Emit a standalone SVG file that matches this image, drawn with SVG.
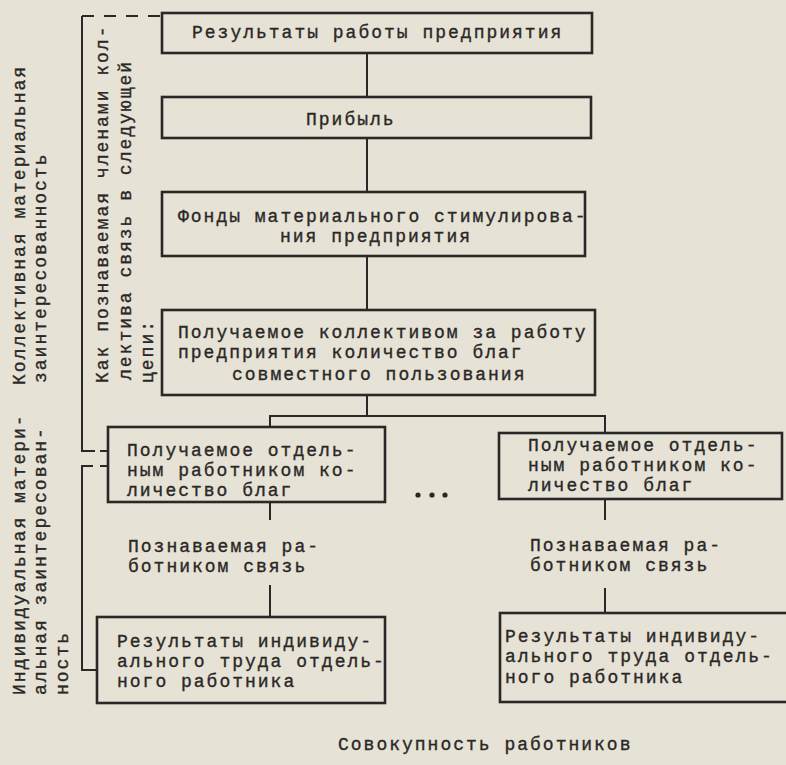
<svg xmlns="http://www.w3.org/2000/svg" width="786" height="765" viewBox="0 0 786 765">
<style>
.bg{fill:#e6e2d5}
.box{fill:none;stroke:#2a2826;stroke-width:2.6}
.ln{fill:none;stroke:#2a2826;stroke-width:2}
.dash{fill:none;stroke:#2a2826;stroke-width:2;stroke-dasharray:12 10}
text{font-family:"Liberation Mono","DejaVu Sans Mono",monospace;font-size:18px;letter-spacing:2px;fill:#2a2826;stroke:#2a2826;stroke-width:0.35}
</style>
<rect class="bg" x="0" y="0" width="786" height="765"/>
<g id="connectors">
<line class="ln" x1="367" y1="53" x2="367" y2="97"/>
<line class="ln" x1="367" y1="138" x2="367" y2="192"/>
<line class="ln" x1="367" y1="256" x2="367" y2="310"/>
<line class="ln" x1="367" y1="395" x2="367" y2="416"/>
<polyline class="ln" points="270,427 270,416 605,416 605,433"/>
<line class="ln" x1="270" y1="502" x2="270" y2="520"/>
<line class="ln" x1="270" y1="585" x2="270" y2="617"/>
<line class="ln" x1="605" y1="499" x2="605" y2="520"/>
<line class="ln" x1="605" y1="588" x2="605" y2="613"/>
</g>
<g id="brackets">
<line class="dash" x1="82" y1="16" x2="160" y2="16"/>
<polyline class="ln" points="82,16 82,451 95,451"/>
<line class="ln" x1="100" y1="451" x2="108" y2="451"/>
<polyline class="ln" points="93,466 82,466 82,670 97,670"/>
<line class="ln" x1="100" y1="466" x2="108" y2="466"/>
</g>
<g id="n1"><rect class="box" x="162" y="13" width="430" height="40"/>
<text x="192" y="38">Результаты работы предприятия</text></g>
<g id="n2"><rect class="box" x="162" y="97" width="429" height="41"/>
<text x="306" y="125">Прибыль</text></g>
<g id="n3"><rect class="box" x="162" y="192" width="423" height="64"/>
<text x="178" y="222">Фонды материального стимулирова-</text>
<text x="280" y="242">ния предприятия</text></g>
<g id="n4"><rect class="box" x="162" y="310" width="433" height="85"/>
<text x="178" y="338">Получаемое коллективом за работу</text>
<text x="178" y="358">предприятия количество благ</text>
<text x="232" y="380">совместного пользования</text></g>
<g id="n5"><rect class="box" x="108" y="427" width="277" height="75"/>
<text x="127" y="456">Получаемое отдель-</text>
<text x="127" y="476">ным работником ко-</text>
<text x="127" y="496">личество благ</text></g>
<g id="n6"><rect class="box" x="499" y="433" width="283" height="66"/>
<text x="528" y="451">Получаемое отдель-</text>
<text x="528" y="471">ным работником ко-</text>
<text x="528" y="491">личество благ</text></g>
<g id="dots" fill="#2a2826"><circle cx="418" cy="495" r="2.6"/><circle cx="432" cy="495" r="2.6"/><circle cx="445" cy="495" r="2.6"/></g>
<g id="l1"><text x="128" y="552">Познаваемая ра-</text><text x="128" y="572">ботником связь</text></g>
<g id="l2"><text x="530" y="551">Познаваемая ра-</text><text x="530" y="571">ботником связь</text></g>
<g id="n7"><rect class="box" x="97" y="617" width="288" height="86"/>
<text x="117" y="647">Результаты индивиду-</text>
<text x="117" y="667">ального труда отдель-</text>
<text x="117" y="687">ного работника</text></g>
<g id="n8"><rect class="box" x="500" y="613" width="300" height="89"/>
<text x="505" y="642">Результаты индивиду-</text>
<text x="505" y="662">ального труда отдель-</text>
<text x="505" y="683">ного работника</text></g>
<g id="side-labels">
<text transform="translate(25,385) rotate(-90)">Коллективная материальная</text>
<text transform="translate(46,383) rotate(-90)">заинтересованность</text>
<text transform="translate(108,383) rotate(-90)">Как познаваемая членами кол-</text>
<text transform="translate(131,380) rotate(-90)">лектива связь в следующей</text>
<text transform="translate(153,383) rotate(-90)">цепи:</text>
<text transform="translate(25,695) rotate(-90)">Индивидуальная матери-</text>
<text transform="translate(46,695) rotate(-90)">альная заинтересован-</text>
<text transform="translate(68,695) rotate(-90)">ность</text>
</g>
<g id="footer"><text x="338" y="750">Совокупность работников</text></g>
</svg>
